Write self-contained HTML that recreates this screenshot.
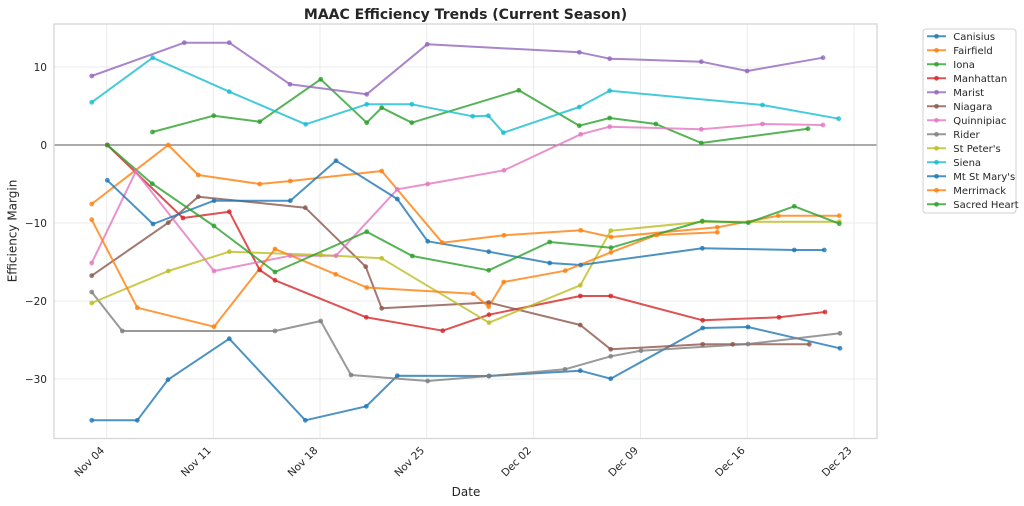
<!DOCTYPE html>
<html><head><meta charset="utf-8"><style>
html,body{margin:0;padding:0;background:#fff;}
svg{display:block;}
text{font-family:"DejaVu Sans","Liberation Sans",sans-serif;fill:#262626;}
</style></head><body>
<svg width="1024" height="506" viewBox="0 0 1024 506" xmlns="http://www.w3.org/2000/svg">
<rect width="1024" height="506" fill="#fff"/>
<!-- grid -->
<g stroke="#ebebeb" stroke-width="1">
<line x1="54" x2="877" y1="67" y2="67"/>
<line x1="54" x2="877" y1="223" y2="223"/>
<line x1="54" x2="877" y1="301" y2="301"/>
<line x1="54" x2="877" y1="379" y2="379"/>
<line x1="106.7" x2="106.7" y1="24" y2="438"/>
<line x1="213.3" x2="213.3" y1="24" y2="438"/>
<line x1="320" x2="320" y1="24" y2="438"/>
<line x1="426.7" x2="426.7" y1="24" y2="438"/>
<line x1="533.5" x2="533.5" y1="24" y2="438"/>
<line x1="640.5" x2="640.5" y1="24" y2="438"/>
<line x1="747.3" x2="747.3" y1="24" y2="438"/>
<line x1="854" x2="854" y1="24" y2="438"/>
</g>
<line x1="54" x2="877" y1="145" y2="145" stroke="#555" stroke-width="1"/>
<rect x="54" y="24" width="823" height="414.5" fill="none" stroke="#d6d6d6" stroke-width="1.3"/>

<g fill="none" stroke-width="2" stroke-linejoin="round" stroke-opacity="0.8">
<polyline stroke="#1f77b4" points="91.7,420.3 137.3,420.3 168,379.7 229.3,338.7 305.3,420.3 366.3,406.3 397.3,375.7 489,376 580.3,370.7 610.7,378.7 702.7,328 748,327 840,348.3"/>
<polyline stroke="#ff7f0e" points="91.7,204 168.3,145 198.3,175 259.7,184 290.3,181 381.7,171 442.3,242.7 504,235.3 580.7,230.3 611,237 717.3,227.3 778.3,215.7 839.3,215.7"/>
<polyline stroke="#2ca02c" points="152.5,132 213.7,115.7 259.7,121.7 320.7,79.3 366.7,122.7 381.7,107.7 411.8,122.7 518.8,90.3 579.3,125.7 609.7,118 655.9,124 701.3,143 808,128.7"/>
<polyline stroke="#d62728" points="107.3,145 183,218 229.3,211.7 259.7,270 275,280.3 366.3,317.3 442.7,330.7 489,314.7 580.3,296 610.7,296 702.7,320.3 779,317.3 825,312"/>
<polyline stroke="#9467bd" points="91.7,76 184.3,42.7 229.3,42.7 290,84.3 366.7,94.3 427.2,44.3 579.3,52.3 609.7,58.7 701.3,61.7 747.1,71 823,57.7"/>
<polyline stroke="#8c564b" points="91.7,275.7 168.3,222.7 198.3,196.7 305.3,207.7 365.7,266.7 381.7,308.3 488.7,302.5 580.3,325 610.7,349.3 702.7,344.3 732.7,344.3 809.3,344.3"/>
<polyline stroke="#e377c2" points="91.7,263 135.7,171.7 214,271 290.3,255.7 336,255.7 397.3,189.3 427.7,184 504,170.3 580.7,134.3 609.7,126.7 701.3,129.3 762.5,124 823,125"/>
<polyline stroke="#7f7f7f" points="91.7,292 122.3,331 275,331 320.7,321 351,375 427.7,381 489,376 565,369.3 610.7,356.3 641,350.7 748,344 840,333.3"/>
<polyline stroke="#bcbd22" points="91.7,303 168.3,271 229.3,251.7 320.7,255 381.7,258.3 489,322.7 580.3,285.3 610.7,230.7 702.3,221.7 839.3,221.7"/>
<polyline stroke="#17becf" points="91.7,102.3 152.7,57.7 229.3,91.7 305.7,124.3 366.7,104.3 411.8,104.3 472.7,116.3 488.4,115.7 503.4,132.7 579.3,107 609.7,90.7 762.5,105 838.7,118.7"/>
<polyline stroke="#1f77b4" points="107.3,180.3 153,224 214,200.7 290.3,200.7 336,160.7 397.3,199 427.7,241.3 488.7,251.7 549.7,263 580.7,265 702.3,248.3 794.3,250 824.3,250"/>
<polyline stroke="#ff7f0e" points="91.7,219.7 137.3,307.7 214,326.7 275,249 335.7,274.3 366.7,287.5 473.3,293.7 488.7,306.7 503.7,282 565.3,270.7 611,252.3 656.7,235 717.3,232.3"/>
<polyline stroke="#2ca02c" points="107.3,145 152.3,183.7 214,226 275,272 366.7,231.7 412.3,256 488.7,270.3 549.7,242 611,247.7 702.3,221 748.3,222.7 794.3,206.3 839.3,223.7"/>
</g>

<!-- markers -->
<g id="mk" fill-opacity="0.8"></g>
<script>
(function(){
var svgns="http://www.w3.org/2000/svg";
var g=document.getElementById('mk');
var pls=document.querySelectorAll('polyline');
pls.forEach(function(p){
 var c=p.getAttribute('stroke');
 p.getAttribute('points').trim().split(/\s+/).forEach(function(pt){
  var xy=pt.split(',');
  var e=document.createElementNS(svgns,'circle');
  e.setAttribute('cx',xy[0]);e.setAttribute('cy',xy[1]);e.setAttribute('r','2.4');e.setAttribute('fill',c);
  g.appendChild(e);
 });
});
})();
</script>

<!-- y ticks -->
<g font-size="10.5" text-anchor="end">
<text x="47" y="71">10</text>
<text x="47" y="149">0</text>
<text x="47" y="227">−10</text>
<text x="47" y="305">−20</text>
<text x="47" y="383">−30</text>
</g>
<text x="16.5" y="231" font-size="12" text-anchor="middle" transform="rotate(-90 16.5 231)">Efficiency Margin</text>

<!-- x ticks -->
<g font-size="10.5" text-anchor="end">
<text transform="translate(105,451) rotate(-45)">Nov 04</text>
<text transform="translate(211.6,451) rotate(-45)">Nov 11</text>
<text transform="translate(318.3,451) rotate(-45)">Nov 18</text>
<text transform="translate(425,451) rotate(-45)">Nov 25</text>
<text transform="translate(531.8,451) rotate(-45)">Dec 02</text>
<text transform="translate(638.8,451) rotate(-45)">Dec 09</text>
<text transform="translate(745.6,451) rotate(-45)">Dec 16</text>
<text transform="translate(852.3,451) rotate(-45)">Dec 23</text>
</g>
<text x="466" y="496" font-size="12" text-anchor="middle">Date</text>

<text x="465.5" y="19" font-size="14" font-weight="bold" text-anchor="middle">MAAC Efficiency Trends (Current Season)</text>

<!-- legend -->
<rect x="923" y="29" width="93" height="184" rx="3" fill="#fff" stroke="#d0d0d0" stroke-width="1"/>
<g font-size="10">
<g stroke-width="2" stroke-opacity="0.8">
<line x1="927" x2="946" y1="36.3" y2="36.3" stroke="#1f77b4"/>
<line x1="927" x2="946" y1="50.3" y2="50.3" stroke="#ff7f0e"/>
<line x1="927" x2="946" y1="64.3" y2="64.3" stroke="#2ca02c"/>
<line x1="927" x2="946" y1="78.3" y2="78.3" stroke="#d62728"/>
<line x1="927" x2="946" y1="92.3" y2="92.3" stroke="#9467bd"/>
<line x1="927" x2="946" y1="106.3" y2="106.3" stroke="#8c564b"/>
<line x1="927" x2="946" y1="120.3" y2="120.3" stroke="#e377c2"/>
<line x1="927" x2="946" y1="134.3" y2="134.3" stroke="#7f7f7f"/>
<line x1="927" x2="946" y1="148.3" y2="148.3" stroke="#bcbd22"/>
<line x1="927" x2="946" y1="162.3" y2="162.3" stroke="#17becf"/>
<line x1="927" x2="946" y1="176.3" y2="176.3" stroke="#1f77b4"/>
<line x1="927" x2="946" y1="190.3" y2="190.3" stroke="#ff7f0e"/>
<line x1="927" x2="946" y1="204.3" y2="204.3" stroke="#2ca02c"/>
</g>
<g fill-opacity="0.8">
<circle cx="936.5" cy="36.3" r="2.4" fill="#1f77b4"/>
<circle cx="936.5" cy="50.3" r="2.4" fill="#ff7f0e"/>
<circle cx="936.5" cy="64.3" r="2.4" fill="#2ca02c"/>
<circle cx="936.5" cy="78.3" r="2.4" fill="#d62728"/>
<circle cx="936.5" cy="92.3" r="2.4" fill="#9467bd"/>
<circle cx="936.5" cy="106.3" r="2.4" fill="#8c564b"/>
<circle cx="936.5" cy="120.3" r="2.4" fill="#e377c2"/>
<circle cx="936.5" cy="134.3" r="2.4" fill="#7f7f7f"/>
<circle cx="936.5" cy="148.3" r="2.4" fill="#bcbd22"/>
<circle cx="936.5" cy="162.3" r="2.4" fill="#17becf"/>
<circle cx="936.5" cy="176.3" r="2.4" fill="#1f77b4"/>
<circle cx="936.5" cy="190.3" r="2.4" fill="#ff7f0e"/>
<circle cx="936.5" cy="204.3" r="2.4" fill="#2ca02c"/>
</g>
<text x="953.3" y="39.8">Canisius</text>
<text x="953.3" y="53.8">Fairfield</text>
<text x="953.3" y="67.8">Iona</text>
<text x="953.3" y="81.8">Manhattan</text>
<text x="953.3" y="95.8">Marist</text>
<text x="953.3" y="109.8">Niagara</text>
<text x="953.3" y="123.8">Quinnipiac</text>
<text x="953.3" y="137.8">Rider</text>
<text x="953.3" y="151.8">St Peter's</text>
<text x="953.3" y="165.8">Siena</text>
<text x="953.3" y="179.8">Mt St Mary's</text>
<text x="953.3" y="193.8">Merrimack</text>
<text x="953.3" y="207.8">Sacred Heart</text>
</g>
</svg>
</body></html>
